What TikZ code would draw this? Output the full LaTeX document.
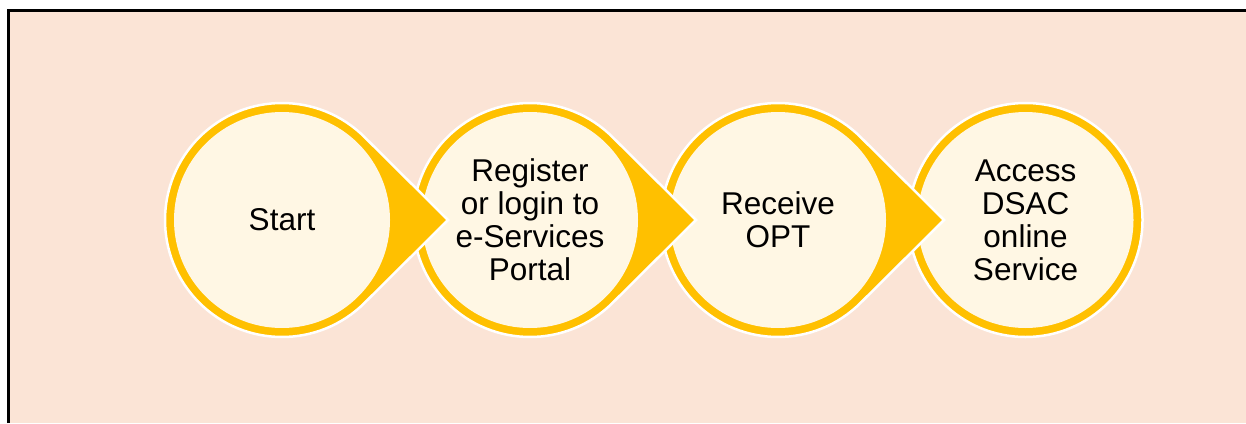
\documentclass[tikz,border=0pt]{standalone}
\usepackage{fontspec}
\setmainfont{Liberation Sans}
\usetikzlibrary{calc}
\definecolor{peach}{HTML}{FBE4D6}
\definecolor{gold}{HTML}{FFC000}
\definecolor{cream}{HTML}{FFF7E4}
\tikzset{
  ring/.style={fill=gold, draw=white, line width=2.5pt, line join=miter},
  core/.style={fill=cream},
  label/.style={font=\fontsize{31.5}{33}\selectfont, align=center, inner sep=0pt, text=black}
}
\newcommand\teardrop[1]{%
  \path[ring] ($(#1)+(45.2:117)$) arc[start angle=45.2, end angle=314.8, radius=117]
     -- ($(#1)+(166,0)$) -- cycle;
  \fill[core] (#1) circle[radius=108];}
\newcommand\plaincircle[1]{%
  \path[ring] (#1) circle[radius=117];
  \fill[core] (#1) circle[radius=108];}
\begin{document}
\begin{tikzpicture}[x=1pt,y=-1pt]
\useasboundingbox (0,0) rectangle (1246,423);
\fill[peach] (9,11) rectangle (1246,423);
\draw[black, line width=2.8pt] (8.5,423) -- (8.5,10.5) -- (1246,10.5);
\coordinate (c1) at (282,220);
\coordinate (c2) at (530,220);
\coordinate (c3) at (778,220);
\coordinate (c4) at (1025.5,220);
\plaincircle{c4}
\teardrop{c3}
\teardrop{c2}
\teardrop{c1}
\node[label] (t1) at (c1) {Start};
\node[label] (t2) at (c2) {Register\\or login to\\e-Services\\Portal};
\node[label] (t3) at (c3) {Receive\\OPT};
\node[label] (t4) at (c4) {Access\\DSAC\\online\\Service};
\end{tikzpicture}
\end{document}
